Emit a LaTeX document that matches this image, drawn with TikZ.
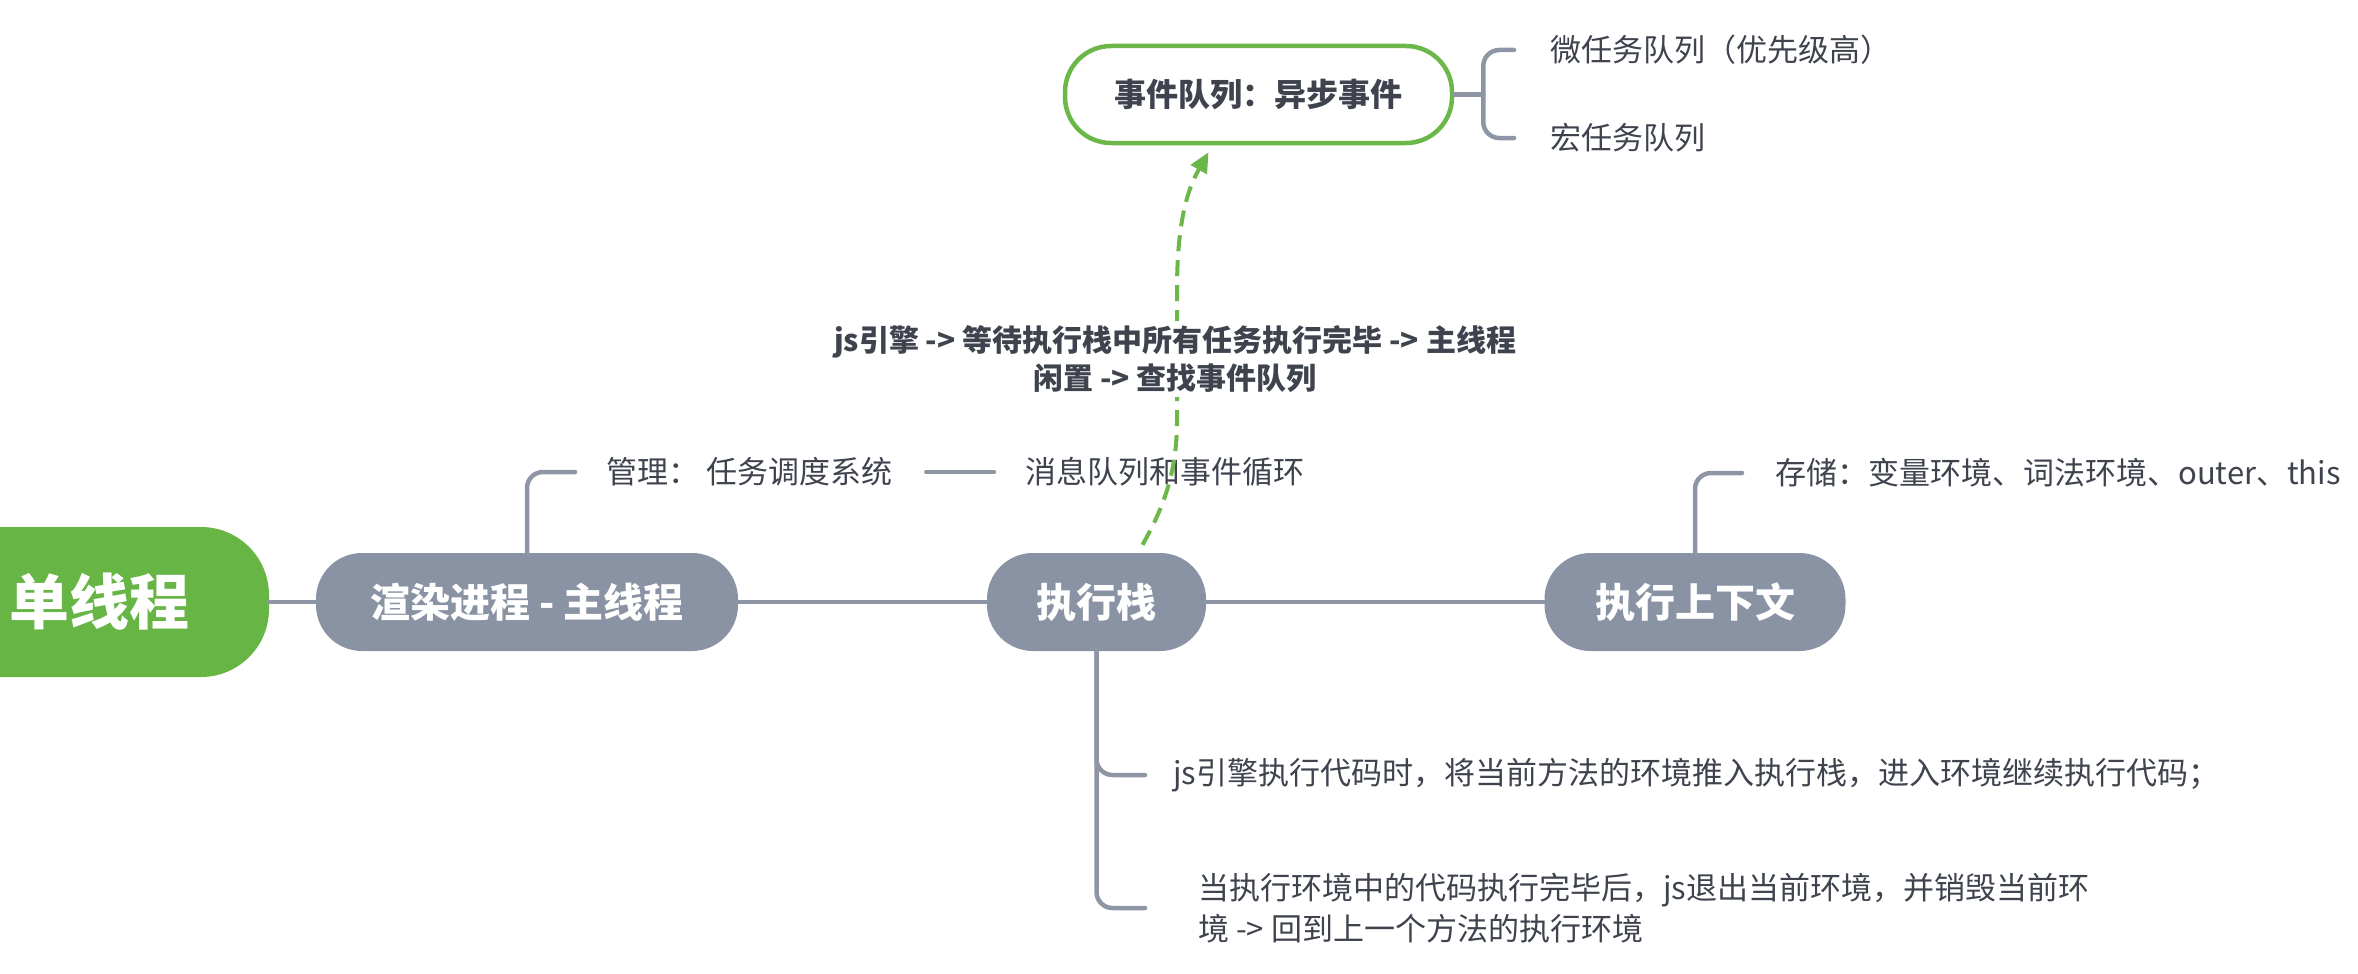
\documentclass[tikz,border=0pt]{standalone}
\usepackage{fontspec}
\setmainfont{Noto Sans CJK SC}
\usetikzlibrary{arrows.meta,calc}
\definecolor{nodegray}{HTML}{8A93A4}
\definecolor{linegray}{HTML}{8E96A6}
\definecolor{rootgreen}{HTML}{66B545}
\definecolor{eqgreen}{HTML}{6CB74A}
\definecolor{txt}{HTML}{3E434E}
\begin{document}
\begin{tikzpicture}[x=1pt,y=-1pt,
  conn/.style={draw=linegray,line width=4.5pt,line cap=round},
  branch/.style={conn,rounded corners=16pt},
  topic/.style={fill=nodegray,text=white,font=\fontsize{40}{48}\selectfont\bfseries,rounded corners=46pt,minimum height=98pt,inner sep=0pt},
  leaf/.style={text=txt,font=\fontsize{31}{41}\selectfont,inner sep=0pt,anchor=west,align=left},
  relabel/.style={fill=white,text=txt,font=\fontsize{30}{38}\selectfont\bfseries,align=center,inner xsep=2pt,inner ysep=4pt},
  relarrow/.style={draw=eqgreen,line width=4pt,dash pattern=on 16pt off 9pt,-{Triangle[length=20pt,width=18pt]}}
]
\useasboundingbox (0,0) rectangle (2358,974);
\clip (0,0) rectangle (2358,974);
% topics
\node[fill=rootgreen,text=white,font=\fontsize{60}{70}\selectfont\bfseries,rounded corners=68pt,minimum width=369pt,minimum height=150pt,inner sep=0pt] (root) at (84.5,602) {\hspace*{30pt}单线程};
\node[topic,minimum width=422pt] (render) at (527,602) {渲染进程 - 主线程};
\node[topic,minimum width=219pt] (stack) at (1096.5,602) {执行栈};
\node[topic,minimum width=301pt] (ctx) at (1695,602) {执行上下文};
\node[draw=eqgreen,line width=4.5pt,fill=white,text=txt,font=\fontsize{32}{40}\selectfont\bfseries,rounded corners=46pt,minimum width=387pt,minimum height=97pt,inner sep=0pt] (eq) at (1258.5,94.5) {事件队列：异步事件};
% leaves
\node[leaf] (manage) at (606,472) {管理： 任务调度系统};
\node[leaf] (msg) at (1025,472) {消息队列和事件循环};
\node[leaf] (store) at (1775,473) {存储：变量环境、词法环境、outer、this};
\node[leaf] (micro) at (1550,50) {微任务队列（优先级高）};
\node[leaf] (macro) at (1550,138) {宏任务队列};
\node[leaf] (s1) at (1173,775) {js引擎执行代码时，将当前方法的环境推入执行栈，进入环境继续执行代码；};
\node[leaf] (s2) at (1198,908) {当执行环境中的代码执行完毕后，js退出当前环境，并销毁当前环\\境 -> 回到上一个方法的执行环境};
% connectors
\draw[conn] (root.east) -- (render.west);
\draw[conn] (render.east) -- (stack.west);
\draw[conn] (stack.east) -- (ctx.west);
\draw[branch] (render.north) |- ([xshift=-31pt]manage.west);
\draw[conn] ([xshift=34pt]manage.east) -- ([xshift=-31pt]msg.west);
\draw[branch] (ctx.north) |- ([xshift=-33pt]store.west);
\coordinate (jq) at ($(eq.east)+(29,0)$);
\draw[conn] (eq.east) -- (jq);
\draw[branch] (jq) |- ([xshift=-36pt]micro.west);
\draw[branch] (jq) |- ([xshift=-36pt]macro.west);
\draw[branch] (stack.south) |- ([xshift=-28pt]s1.west);
\draw[branch] (stack.south) |- ([xshift=-53pt]s2.west);
% relationship
\coordinate (a0) at ($(stack.north)+(46,-8)$);
\coordinate (a1) at ($(eq.south)+(-50,7)$);
\draw[relarrow] (a0) .. controls (1165,505) and (1177,470) .. (1177,420) -- (1177,290) .. controls (1177,215) and (1190,185) .. (a1);
\node[relabel] (lbl) at (1175,359) {js引擎 -> 等待执行栈中所有任务执行完毕 -> 主线程\\闲置 -> 查找事件队列};
\end{tikzpicture}
\end{document}
